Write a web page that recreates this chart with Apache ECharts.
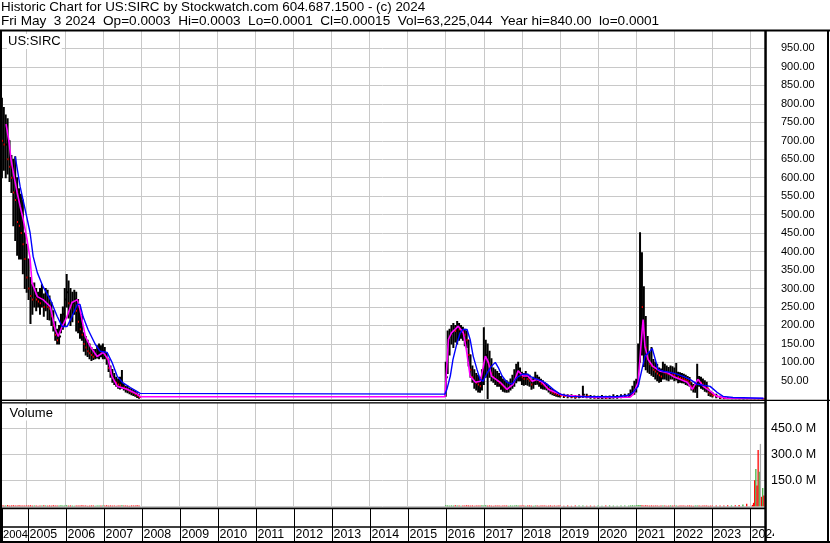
<!DOCTYPE html>
<html><head><meta charset="utf-8">
<script src="https://cdn.jsdelivr.net/npm/echarts@6/dist/echarts.min.js"></script>
<style>html,body{margin:0;padding:0;background:#fff}#c{width:830px;height:543px}</style>
</head><body><div id="c"></div><script>
// ---------- DATA (dates are decimal years) ----------
const barDates = [
  2004.30,2004.35,2004.40,2004.45,2004.50,2004.55,2004.60,2004.65,2004.70,2004.75,2004.80,2004.85,2004.90,2004.95,
  2005.00,2005.05,2005.10,2005.15,2005.20,2005.25,2005.30,2005.35,2005.40,2005.45,2005.50,2005.55,2005.60,2005.65,2005.70,2005.75,2005.80,2005.85,2005.90,2005.95,
  2006.00,2006.05,2006.10,2006.15,2006.20,2006.25,2006.30,2006.35,2006.40,2006.45,2006.50,2006.55,2006.60,2006.65,2006.70,2006.75,2006.80,2006.85,2006.90,2006.95,
  2007.00,2007.05,2007.10,2007.15,2007.20,2007.25,2007.30,2007.35,2007.40,2007.45,2007.50,2007.55,2007.60,2007.65,2007.70,2007.75,2007.80,2007.85,2007.90,2007.95,
  2016.00,2016.05,2016.10,2016.15,2016.20,2016.25,2016.30,2016.35,2016.40,2016.45,2016.50,2016.55,2016.60,2016.65,2016.70,2016.75,2016.80,2016.85,2016.90,2016.95,
  2017.00,2017.05,2017.10,2017.15,2017.20,2017.25,2017.30,2017.35,2017.40,2017.45,2017.50,2017.55,2017.60,2017.65,2017.70,2017.75,2017.80,2017.85,2017.90,2017.95,
  2018.00,2018.05,2018.10,2018.15,2018.20,2018.25,2018.30,2018.35,2018.40,2018.45,2018.50,2018.55,2018.60,2018.65,2018.70,2018.75,2018.80,2018.85,2018.90,2018.95,
  2019.00,2019.10,2019.20,2019.30,2019.40,2019.50,2019.60,2019.70,2019.80,2019.90,
  2020.00,2020.10,2020.20,2020.30,2020.40,2020.50,2020.60,2020.70,2020.80,2020.85,2020.90,2020.95,
  2021.00,2021.05,2021.10,2021.15,2021.20,2021.25,2021.30,2021.35,2021.40,2021.45,2021.50,2021.55,2021.60,2021.65,2021.70,2021.75,2021.80,2021.85,2021.90,2021.95,
  2022.00,2022.05,2022.10,2022.15,2022.20,2022.25,2022.30,2022.35,2022.40,2022.45,2022.50,2022.55,2022.60,2022.65,2022.70,2022.75,2022.80,2022.85,2022.90,2022.95,
  2023.00,2023.10,2023.20,2023.30,2023.40,2023.50,2023.60,2023.70,2023.80,2023.90,
  2024.00,2024.10,2024.20,2024.30,2024.34
];
const barHigh = [
  830,815,790,770,760,700,660,650,657,600,570,555,540,450,
  420,380,330,310,315,300,290,300,310,285,300,295,280,262,240,210,190,200,230,250,
  300,338,320,300,290,295,290,270,250,230,180,170,160,150,140,135,135,145,150,145,
  150,140,125,108,90,81,70,60,55,60,78,40,35,35,30,28,25,22,18,12,
  100,185,190,200,205,200,211,205,200,195,190,185,160,120,90,80,70,65,60,80,
  194,160,150,130,110,85,80,75,70,62,55,50,50,46,55,65,80,95,100,85,
  73,70,75,68,65,55,60,73,65,60,54,50,45,40,35,30,27,24,20,18,
  16,14,12,12,10,12,35,14,10,9,
  8,10,8,9,12,10,12,14,15,25,35,49,
  54,150,451,397,305,224,170,127,140,108,100,95,85,82,100,95,90,86,90,88,
  85,97,73,72,70,68,65,62,59,45,40,42,95,62,60,55,50,46,27,22,
  18,14,8,5,4,3,3,2.5,2,2,
  1.5,1,0.8,0.5,0.0003
];
const barLow = [
  640,600,620,600,610,590,560,470,430,390,380,380,340,300,
  290,270,205,230,250,240,250,230,250,225,240,216,215,200,185,160,150,150,180,190,
  200,250,220,200,210,230,185,180,165,160,130,120,116,110,105,108,110,112,110,115,
  110,110,95,75,60,46,40,35,30,28,30,25,20,18,15,12,10,8,5,3,
  8,70,120,150,140,155,150,160,165,160,145,140,90,60,46,30,25,20,19,25,
  40,60,2,60,50,46,40,35,35,27,22,20,19,20,25,30,35,45,50,50,
  40,38,40,38,35,27,30,40,41,35,30,28,27,25,20,15,12,10,8,7,
  6,5,4,4,3,4,5,4,3,3,
  2,2,2,2,3,3,4,5,6,8,12,14,
  20,40,100,120,89,80,73,70,65,62,55,50,46,48,55,55,52,50,55,55,
  50,52,45,46,45,44,40,38,35,25,20,19,5,35,30,27,22,20,10,8,
  6,4,2,1,1,0.5,0.5,0.3,0.2,0.1,
  0.05,0.01,0.005,0.001,0.0001
];
const barClose = [
  720,700,690,690,650,630,600,560,540,480,470,450,420,380,
  330,300,280,270,280,270,265,260,270,250,260,250,245,225,200,175,160,170,200,230,
  270,290,260,250,260,270,240,210,190,175,150,140,130,125,120,115,120,125,130,125,
  130,120,110,85,70,60,50,45,40,38,40,32,28,25,22,20,18,14,10,6,
  60,150,170,180,190,185,195,190,190,185,175,160,120,80,60,50,45,40,35,50,
  110,120,100,90,70,60,55,50,45,40,35,30,28,30,38,45,60,70,75,65,
  60,55,60,55,50,40,45,55,52,48,42,40,36,32,28,22,18,16,14,12,
  10,9,8,7,6,7,12,8,6,5,
  5,5,4,5,6,6,7,9,10,15,20,30,
  35,100,300,250,180,140,110,95,90,80,75,70,65,62,75,72,70,68,70,68,
  66,70,60,58,56,55,52,50,45,35,30,32,55,50,45,40,35,30,18,14,
  11,8,5,3,2,2,1.5,1,1,0.8,
  0.5,0.3,0.1,0.05,0.00015
];
// volume per bar, millions
const barVol = [
  5,6,4,5,7,4,5,6,5,4,6,5,4,5,
  4,5,6,4,5,4,3,5,4,6,5,4,5,4,6,5,4,5,6,4,
  5,6,4,5,4,3,5,4,5,6,4,5,3,4,5,4,3,5,4,5,
  4,5,6,4,5,4,5,3,4,5,6,4,5,4,3,5,4,5,6,5,
  6,5,4,5,4,6,5,4,3,5,4,6,5,4,5,3,4,5,4,6,
  5,6,4,5,4,3,5,4,5,3,4,5,4,3,5,4,5,6,4,5,
  4,5,3,4,5,4,3,5,4,3,4,5,4,3,4,5,3,4,3,4,
  4,3,4,3,4,5,4,3,4,3,
  4,3,4,5,4,3,4,5,4,5,6,5,
  6,8,7,6,5,6,5,4,5,4,5,4,3,4,5,4,3,4,5,4,
  4,5,3,4,5,4,3,4,5,4,3,4,5,4,3,4,5,4,3,4,
  4,5,4,5,6,5,6,8,10,14,
  0,0,0,0,0
];
// 2024 volume surge (millions); d = down, u = up, n = unchanged
const surgeDates = [2024.05,2024.08,2024.11,2024.14,2024.17,2024.20,2024.23,2024.26,2024.29,2024.32,2024.35];
const surgeVol   = [8,20,150,215,120,325,200,360,55,105,63];
const surgeDir   = ['d','d','d','u','d','d','u','n','d','u','d'];

// short moving average (magenta)
const maShortDates = [2004.46,2004.54,2004.59,2004.65,2004.75,2004.83,2004.91,2005.01,2005.09,2005.14,2005.28,2005.43,2005.62,2005.75,2005.83,2005.93,2006.06,2006.19,2006.33,2006.40,2006.54,2006.67,2006.85,2007.01,2007.14,2007.24,2007.38,2007.64,2007.90,2007.98,
  2015.98,2016.07,2016.15,2016.33,2016.46,2016.54,2016.64,2016.78,2016.91,2017.04,2017.12,2017.20,2017.43,2017.61,2017.77,2017.90,2018.03,2018.16,2018.27,2018.40,2018.53,2018.69,2018.87,2019.08,2019.53,2019.97,2020.84,2020.92,
  2021.05,2021.15,2021.18,2021.23,2021.31,2021.44,2021.63,2021.81,2021.97,2022.15,2022.34,2022.47,2022.62,2022.76,2022.94,2023.12,2023.38,2024.34];
const maShortVals = [745,695,649,614,560,522,487,432,380,316,278,270,251,189,170,197,224,262,270,243,170,143,116,127,108,62,35,27,14,7,
  7,162,180,198,180,135,63,46,49,117,100,63,46,27,41,77,63,63,49,54,46,27,19,11,8,5,6,14,
  46,180,216,143,108,89,76,73,62,54,46,27,54,35,22,8,3,2];
// long moving average (blue)
const maLongDates = [2004.70,2004.83,2004.96,2005.09,2005.17,2005.28,2005.43,2005.62,2005.80,2005.93,2006.06,2006.19,2006.33,2006.40,2006.48,2006.61,2006.80,2006.93,2007.11,2007.24,2007.38,2007.51,2007.72,2007.98,
  2015.98,2016.03,2016.12,2016.19,2016.30,2016.38,2016.46,2016.56,2016.64,2016.72,2016.82,2016.90,2016.98,2017.09,2017.17,2017.30,2017.38,2017.48,2017.61,2017.74,2017.87,2018.01,2018.14,2018.27,2018.40,2018.53,2018.66,2018.82,2019.00,2019.26,2019.79,2020.50,2020.80,2020.92,
  2021.05,2021.15,2021.23,2021.36,2021.42,2021.50,2021.57,2021.71,2021.89,2022.07,2022.23,2022.41,2022.60,2022.76,2022.94,2023.12,2023.28,2023.54,2024.34];
const maLongVals = [657,575,514,451,387,343,305,270,225,197,197,224,257,257,224,189,149,130,127,100,62,46,32,16,
  14,27,63,108,154,180,189,189,162,117,81,54,49,72,86,100,86,63,46,41,59,68,68,59,54,49,41,27,14,8,7,7,11,19,
  35,81,117,130,138,108,81,76,73,68,62,54,41,38,35,19,8,5,3];

const priceTicks = {min: 0, max: 1000, interval: 50};
const volTicks = {min: 0, max: 600, interval: 150};
const headerLine1 = 'Historic Chart for US:SIRC by Stockwatch.com 604.687.1500 - (c) 2024';
const headerLine2 = 'Fri May  3 2024  Op=0.0003  Hi=0.0003  Lo=0.0001  Cl=0.00015  Vol=63,225,044  Year hi=840.00  lo=0.0001';

// ---------- BUILD ----------
const X_MIN = 2004.30, X_MAX = 2024.38;
const SANS = '"Liberation Sans", Arial, sans-serif';

const priceData = barDates.map((t, i) => [t, barLow[i], barHigh[i], barClose[i], i > 0 ? barClose[i-1] : barClose[i]]);
const volData = barDates.map((t, i) => {
  const down = i > 0 && barClose[i] < barClose[i-1];
  return {value: [t, barVol[i]], itemStyle: {color: down ? '#ff0000' : '#33aa33'}};
}).concat(surgeDates.map((t, i) => ({
  value: [t, surgeVol[i]],
  itemStyle: {color: surgeDir[i] === 'd' ? '#ff0000' : (surgeDir[i] === 'u' ? '#44b044' : '#a8a8a8')}
})));
const maShort = maShortDates.map((t, i) => [t, maShortVals[i]]);
const maLong = maLongDates.map((t, i) => [t, maLongVals[i]]);

function xAxisFor(gi, extra) {
  return Object.assign({
    type: 'value', gridIndex: gi, min: X_MIN, max: X_MAX, minInterval: 1, maxInterval: 1, splitNumber: 20,
    axisLine: {show: false}, axisTick: {show: false}, axisLabel: {show: false},
    splitLine: {show: true, lineStyle: {color: '#c8c8c8', width: 1}}
  }, extra || {});
}

const chart = echarts.init(document.getElementById('c'), null, {renderer: 'canvas'});
chart.setOption({
  animation: false,
  backgroundColor: '#fff',
  grid: [
    {left: 0, top: 30, width: 765, height: 369.3},
    {left: 0, top: 402.3, width: 765, height: 104},
    {left: 0, top: 508, width: 765, height: 19}
  ],
  xAxis: [
    xAxisFor(0),
    xAxisFor(1),
    xAxisFor(2, {
      splitLine: {show: true, lineStyle: {color: '#000', width: 1}},
      axisLine: {show: true, onZero: false, lineStyle: {color: '#000', width: 1.5}},
      axisTick: {show: true, length: 14, lineStyle: {color: '#000', width: 1}},
      axisLabel: {
        show: true, showMinLabel: true, showMaxLabel: false, hideOverlap: false, interval: 0,
        align: 'left', verticalAlign: 'middle',
        margin: 8, padding: [0, 0, 0, 1], fontFamily: SANS, fontSize: 12.4, color: '#000',
        rich: {first: {fontFamily: SANS, fontSize: 11.2, color: '#000'}},
        formatter: v => {
          if (Math.abs(v - X_MAX) < 1e-6) return '';
          if (Math.abs(v - X_MIN) < 1e-6) return '{first|' + Math.floor(v) + '}';
          return String(Math.floor(v + 1e-6));
        }
      }
    })
  ],
  yAxis: [
    {type: 'value', gridIndex: 0, position: 'right', min: priceTicks.min, max: priceTicks.max, interval: priceTicks.interval,
     axisLine: {show: false}, axisTick: {show: false},
     axisLabel: {margin: 16, align: 'left', fontFamily: SANS, fontSize: 11, color: '#000', hideOverlap: false,
                 showMinLabel: false, showMaxLabel: false, formatter: v => v.toFixed(2)},
     splitLine: {show: true, lineStyle: {color: '#c8c8c8', width: 1}}},
    {type: 'value', gridIndex: 1, position: 'right', min: volTicks.min, max: volTicks.max, interval: volTicks.interval,
     axisLine: {show: false}, axisTick: {show: false},
     axisLabel: {margin: 6, align: 'left', fontFamily: SANS, fontSize: 12.5, color: '#000',
                 showMinLabel: false, showMaxLabel: false, formatter: v => v.toFixed(1) + ' M'},
     splitLine: {show: true, lineStyle: {color: '#c8c8c8', width: 1}}},
    {type: 'value', gridIndex: 2, min: 0, max: 1, show: false}
  ],
  series: [
    {
      type: 'custom', name: 'price', xAxisIndex: 0, yAxisIndex: 0, clip: true,
      data: priceData, encode: {x: 0, y: [1, 2, 3]},
      renderItem: function (params, api) {
        const t = api.value(0);
        const lo = api.coord([t, api.value(1)]);
        const hi = api.coord([t, api.value(2)]);
        const c = api.coord([t, api.value(3)]);
        const down = api.value(3) < api.value(4);
        return {type: 'group', children: [
          {type: 'line', shape: {x1: lo[0], y1: lo[1] + 0.5, x2: hi[0], y2: hi[1] - 0.5}, style: {stroke: '#000', lineWidth: 2}},
          {type: 'rect', shape: {x: c[0] - 0.2, y: c[1] - 1, width: 2.2, height: 2}, style: {fill: down ? '#ff0000' : '#000'}}
        ]};
      },
      z: 2
    },
    {type: 'line', name: 'maShort', xAxisIndex: 0, yAxisIndex: 0, data: maShort, symbol: 'none',
     lineStyle: {color: '#ff00ff', width: 1.6}, z: 3},
    {type: 'line', name: 'maLong', xAxisIndex: 0, yAxisIndex: 0, data: maLong, symbol: 'none',
     lineStyle: {color: '#0000ff', width: 1.4}, z: 4},
    {type: 'bar', name: 'volume', xAxisIndex: 1, yAxisIndex: 1, data: volData, barWidth: 1.3, z: 2}
  ],
  graphic: [
    {type: 'rect', shape: {x: 774, y: 528, width: 52, height: 13}, style: {fill: '#fff'}, z: 99},
    {type: 'rect', shape: {x: 0, y: 29.5, width: 830, height: 2}, style: {fill: '#000'}, z: 100},
    {type: 'rect', shape: {x: 0, y: 30, width: 2, height: 513}, style: {fill: '#000'}, z: 100},
    {type: 'rect', shape: {x: 764.3, y: 30, width: 2.5, height: 513}, style: {fill: '#000'}, z: 100},
    {type: 'rect', shape: {x: 827, y: 30, width: 2, height: 513}, style: {fill: '#000'}, z: 100},
    {type: 'rect', shape: {x: 0, y: 541, width: 830, height: 2}, style: {fill: '#000'}, z: 100},
    {type: 'rect', shape: {x: 0, y: 399.8, width: 830, height: 1.3}, style: {fill: '#000'}, z: 100},
    {type: 'rect', shape: {x: 0, y: 402.3, width: 765, height: 1.3}, style: {fill: '#000'}, z: 100},
    {type: 'rect', shape: {x: 0, y: 507.5, width: 765, height: 1.8}, style: {fill: '#000'}, z: 100},
    {type: 'text', x: 1, y: 7, style: {text: headerLine1, font: '13.4px ' + SANS, fill: '#000', verticalAlign: 'middle'}, z: 100},
    {type: 'text', x: 1, y: 21.5, style: {text: headerLine2, font: '13.6px ' + SANS, fill: '#000', verticalAlign: 'middle'}, z: 100},
    {type: 'text', x: 7, y: 41.5, style: {text: 'US:SIRC', font: '13px ' + SANS, fill: '#000', verticalAlign: 'middle', backgroundColor: '#fff', padding: [1, 1, 1, 1]}, z: 100},
    {type: 'text', x: 8.5, y: 413, style: {text: 'Volume', font: '13px ' + SANS, fill: '#000', verticalAlign: 'middle', backgroundColor: '#fff', padding: [1, 1, 1, 1]}, z: 100}
  ]
});
</script></body></html>
